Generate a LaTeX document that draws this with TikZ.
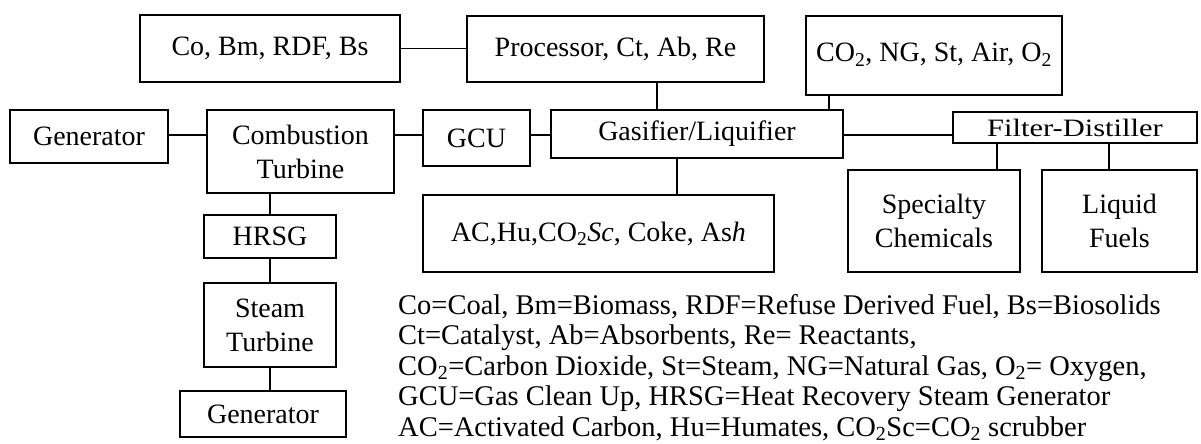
\documentclass[tikz,border=0pt]{standalone}
\usepackage{fontspec}
\setmainfont{Liberation Serif}
\begin{document}
\begin{tikzpicture}[x=1pt,y=-1pt,
  box/.style={draw, line width=1.6pt, inner sep=0pt, align=center,
    font=\fontsize{28}{34}\selectfont},
  link/.style={line width=1.6pt},
  legend/.style={anchor=base west, inner sep=0pt, font=\fontsize{28.5}{30}\selectfont}]
\useasboundingbox (0,0) rectangle (1201,444);
% top row
\node[box, minimum width=260pt, minimum height=67pt] (co) at (270,48.5) {Co, Bm, RDF, Bs};
\node[box, minimum width=297pt, minimum height=66pt] (proc) at (615.5,49) {Processor, Ct, Ab, Re};
\node[box, minimum width=256pt, minimum height=79pt] (co2) at (934,55.5) {\raisebox{6pt}{CO\textsubscript{2}, NG, St, Air, O\textsubscript{2}}};
% second row
\node[box, minimum width=158pt, minimum height=53pt] (genl) at (89,136.5) {Generator};
\node[box, minimum width=187pt, minimum height=83pt] (comb) at (300.5,151.5) {Combustion\\Turbine};
\node[box, minimum width=107pt, minimum height=56pt] (gcu) at (476.5,138) {GCU};
\node[box, minimum width=292pt, minimum height=48pt] (gas) at (697,134) {Gasifier/Liquifier};
\node[box, minimum width=244pt, minimum height=31pt] (fd) at (1075,127.5) {\scalebox{1.22}[1]{\fontsize{25}{28}\selectfont Filter-Distiller}};
% third row
\node[box, minimum width=351pt, minimum height=77pt] (ac) at (598.5,233.5) {AC,Hu,CO\textsubscript{2}\textit{Sc}, Coke, As\textit{h}};
\node[box, minimum width=172pt, minimum height=102pt] (spec) at (934,221) {Specialty\\Chemicals};
\node[box, minimum width=155pt, minimum height=102pt] (liq) at (1119.5,221) {Liquid\\Fuels};
% left column
\node[box, minimum width=132pt, minimum height=43pt] (hrsg) at (270,236.5) {HRSG};
\node[box, minimum width=132pt, minimum height=84pt] (steam) at (270,325) {Steam\\Turbine};
\node[box, minimum width=166pt, minimum height=46pt] (genb) at (263,414) {Generator};
% connector guide coordinates
\coordinate (r2) at (0,135);
\coordinate (xproc) at (657,0);
\coordinate (xco2) at (829,0);
\coordinate (xac) at (677,0);
\coordinate (xcol) at (270,0);
\coordinate (xspec) at (997,0);
\coordinate (xliq) at (1109,0);
% connectors
\draw[link] (co.east) -- (proc.west |- co.east);
\draw[link] (proc.south -| xproc) -- (gas.north -| xproc);
\draw[link] (co2.south -| xco2) -- (gas.north -| xco2);
\draw[link] (genl.east |- r2) -- (comb.west |- r2);
\draw[link] (comb.east |- r2) -- (gcu.west |- r2);
\draw[link] (gcu.east |- r2) -- (gas.west |- r2);
\draw[link] (gas.east |- r2) -- (fd.west |- r2);
\draw[link] (gas.south -| xac) -- (ac.north -| xac);
\draw[link] (fd.south -| xspec) -- (spec.north -| xspec);
\draw[link] (fd.south -| xliq) -- (liq.north -| xliq);
\draw[link] (comb.south -| xcol) -- (hrsg.north -| xcol);
\draw[link] (hrsg.south -| xcol) -- (steam.north -| xcol);
\draw[link] (steam.south -| xcol) -- (genb.north -| xcol);
% legend
\node[legend] (leg1) at (398,314) {Co=Coal, Bm=Biomass, RDF=Refuse Derived Fuel, Bs=Biosolids};
\node[legend] (leg2) at (398,344.5) {Ct=Catalyst, Ab=Absorbents, Re= Reactants,};
\node[legend] (leg3) at (398,375) {CO\textsubscript{2}=Carbon Dioxide, St=Steam, NG=Natural Gas, O\textsubscript{2}= Oxygen,};
\node[legend] (leg4) at (398,405.5) {GCU=Gas Clean Up, HRSG=Heat Recovery Steam Generator};
\node[legend] (leg5) at (398,436) {AC=Activated Carbon, Hu=Humates, CO\textsubscript{2}Sc=CO\textsubscript{2} scrubber};
\end{tikzpicture}
\end{document}
